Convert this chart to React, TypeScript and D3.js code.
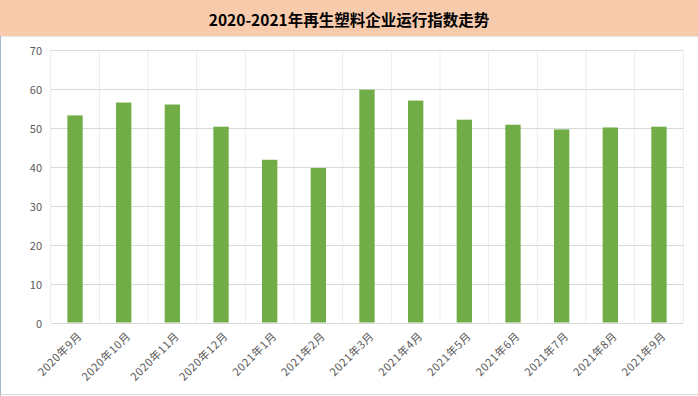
import React from "react";
import * as d3 from "d3";

const categories = [
  "2020年9月", "2020年10月", "2020年11月", "2020年12月",
  "2021年1月", "2021年2月", "2021年3月", "2021年4月",
  "2021年5月", "2021年6月", "2021年7月", "2021年8月", "2021年9月",
];
const values = [53.2, 56.5, 56.0, 50.3, 41.8, 39.7, 59.8, 57.0, 52.1, 50.8, 49.6, 50.1, 50.3];
const yTicks = [0, 10, 20, 30, 40, 50, 60, 70];
const title = "2020-2021年再生塑料企业运行指数走势";

const W = 698;
const H = 396;
const plot = { left: 50.7, right: 683.3, top: 50, bottom: 322.5 };

export default function App() {
  const x = d3.scaleBand<string>().domain(categories).range([plot.left, plot.right]).paddingInner(0).paddingOuter(0);
  const y = d3.scaleLinear().domain([0, 70]).range([plot.bottom, plot.top]);
  const bw = x.bandwidth() * 0.315;
  const font = "'Noto Sans CJK SC', 'Microsoft YaHei', sans-serif";

  return (
    <svg width={W} height={H} style={{ position: "absolute", left: 0, top: 0 }} fontFamily={font}>
      <rect x={0} y={0} width={W} height={H} fill="#ffffff" />
      <rect x={0} y={0} width={W} height={36} fill="#F8CBAD" />
      <line x1={0} x2={W} y1={36.5} y2={36.5} stroke="#e6e6e6" />
      <text x={W / 2} y={19} textAnchor="middle" dominantBaseline="central" fontSize={15.5} fontWeight="bold" fill="#000">
        {title}
      </text>
      {/* vertical gridlines */}
      {categories.map((c, i) => (
        <line key={"v" + i} x1={x(c)!} x2={x(c)!} y1={plot.top} y2={plot.bottom} stroke="#ececec" strokeWidth={1} />
      ))}
      <line x1={plot.right} x2={plot.right} y1={plot.top} y2={plot.bottom} stroke="#ececec" />
      {/* horizontal gridlines */}
      {yTicks.map((t) => (
        <line key={"h" + t} x1={plot.left} x2={plot.right} y1={Math.round(y(t)) + 0.5} y2={Math.round(y(t)) + 0.5} stroke="#d9d9d9" />
      ))}
      {yTicks.map((t) => (
        <text key={"yt" + t} x={42} y={y(t)} textAnchor="end" dominantBaseline="central" fontSize={11} fill="#595959">
          {t}
        </text>
      ))}
      {categories.map((c, i) => (
        <rect key={"b" + i} x={x(c)! + x.bandwidth() / 2 - bw / 2} y={y(values[i])} width={bw} height={y(0) - y(values[i])} fill="#70AD47" />
      ))}
      {categories.map((c, i) => {
        const cx = x(c)! + x.bandwidth() / 2 + 5;
        return (
          <text key={"xl" + i} transform={`translate(${cx},${334}) rotate(-45)`} textAnchor="end" dy="0.35em" fontSize={11} letterSpacing={0.6} fill="#595959">
            {c}
          </text>
        );
      })}
      <line x1={0.5} x2={0.5} y1={36} y2={H} stroke="#a9b6d0" />
      <line x1={0} x2={W} y1={H - 1.5} y2={H - 1.5} stroke="#d9d9d9" />
    </svg>
  );
}
